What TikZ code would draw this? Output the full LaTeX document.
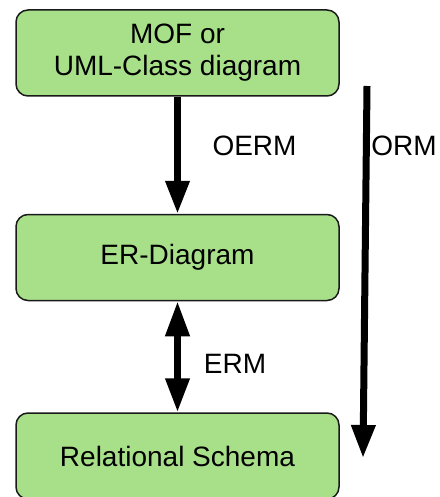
\documentclass[tikz,border=0pt]{standalone}
\usepackage{fontspec}
\setmainfont{Liberation Sans}
\usetikzlibrary{arrows.meta}
\definecolor{boxgreen}{HTML}{A8E08A}
\tikzset{
  x=1pt,y=-1pt,
  stage/.style={draw=black!90,line width=1.5pt,fill=boxgreen,rounded corners=12pt,
    minimum width=323pt,minimum height=86pt,inner sep=0pt,align=center,
    font=\fontsize{28}{32}\selectfont},
  lbl/.style={font=\fontsize{28}{32}\selectfont,inner sep=0pt},
  bigarrow/.style={line width=7pt,-{Triangle[width=23pt,length=33pt]}},
  dblarrow/.style={line width=7pt,{Triangle[width=23pt,length=35pt]}-{Triangle[width=23pt,length=34pt]}},
}
\begin{document}
\begin{tikzpicture}
\useasboundingbox (0,0) rectangle (439,497);
\node[stage] (mof) at (177.5,53) {MOF or\\UML-Class diagram};
\node[stage] (er) at (177.5,257.5) {ER-Diagram};
\node[stage] (rel) at (177.5,456) {Relational Schema};
\coordinate (ormtop) at (367,86);
\coordinate (ormend) at (363,458);
\draw[bigarrow] (mof.south) -- (er.north);
\draw[dblarrow] (er.south) -- (rel.north);
\draw[bigarrow] (ormtop) -- (ormend);
\node[lbl] (oerm) at (254.5,146) {OERM};
\node[lbl] (erm) at (235,364) {ERM};
\node[lbl] (orm) at (404,146) {ORM};
\end{tikzpicture}
\end{document}
